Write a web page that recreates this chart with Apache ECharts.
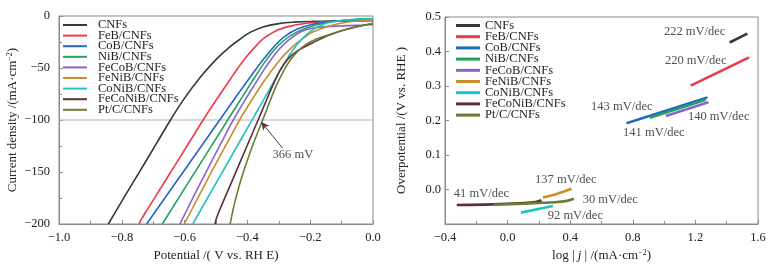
<!DOCTYPE html>
<html>
<head>
<meta charset="utf-8">
<script src="https://cdn.jsdelivr.net/npm/echarts@6/dist/echarts.min.js"></script>
<style>
  html, body { margin: 0; padding: 0; background: #fff; }
  #chart { width: 776px; height: 267px; }
</style>
</head>
<body>
<div id="chart"></div>
<script>
// sample names / colours (same order in both panels)
const names = ["CNFs", "FeB/CNFs", "CoB/CNFs", "NiB/CNFs", "FeCoB/CNFs", "FeNiB/CNFs", "CoNiB/CNFs", "FeCoNiB/CNFs", "Pt/C/CNFs"];
const colors = ["#383838", "#ee3a48", "#2366c4", "#22a060", "#8e62cc", "#c98d2e", "#1dc2c4", "#5e2f3a", "#6f7a32"];

// LSV curves: [potential V vs RHE, current density mA/cm2]
const lsvCNFs = [[-0.843,-200],[-0.79,-173],[-0.731,-143.5],[-0.69,-122.8],[-0.645,-100],[-0.60,-79],[-0.55,-59],[-0.50,-42],[-0.455,-29.5],[-0.42,-21.5],[-0.39,-15.5],[-0.35,-10.5],[-0.30,-7.3],[-0.25,-5.9],[-0.19,-5.2],[-0.10,-4.8],[0,-4.5]];
const lsvFeB = [[-0.745,-200],[-0.740,-196.5],[-0.733,-193],[-0.69,-172.2],[-0.638,-147],[-0.59,-123.8],[-0.541,-100],[-0.50,-81],[-0.455,-61],[-0.43,-50],[-0.40,-38],[-0.37,-28],[-0.35,-22],[-0.30,-13],[-0.243,-8.5],[-0.19,-6.2],[-0.10,-4.5],[0,-3.8]];
const lsvCoB = [[-0.721,-200],[-0.60,-148],[-0.486,-99],[-0.43,-75],[-0.40,-62.5],[-0.37,-50],[-0.35,-42],[-0.317,-30],[-0.285,-20.5],[-0.243,-12.8],[-0.19,-7.8],[-0.137,-5.2],[-0.07,-3.8],[0,-3]];
const lsvNiB = [[-0.671,-200],[-0.561,-147.2],[-0.463,-100.2],[-0.43,-84.4],[-0.402,-71],[-0.375,-58.2],[-0.349,-46.3],[-0.317,-33.5],[-0.285,-23.8],[-0.243,-15.5],[-0.19,-9.3],[-0.13,-5.6],[-0.06,-3.3],[0,-2.5]];
const lsvFeCoB = [[-0.615,-200],[-0.572,-174],[-0.528,-148],[-0.486,-123.5],[-0.445,-100],[-0.402,-78],[-0.375,-65],[-0.349,-52.5],[-0.32,-40],[-0.296,-31],[-0.27,-23.5],[-0.243,-17.5],[-0.22,-14],[-0.19,-11.5],[-0.137,-10],[-0.08,-9.3],[-0.03,-8.7],[0,-8.2]];
const lsvFeNiB = [[-0.601,-200],[-0.556,-174],[-0.511,-148],[-0.468,-124],[-0.425,-100],[-0.402,-88.5],[-0.375,-75.5],[-0.349,-63.5],[-0.32,-51.5],[-0.296,-42],[-0.27,-33.5],[-0.243,-26],[-0.215,-19.8],[-0.19,-15.2],[-0.137,-9.3],[-0.084,-6],[0,-3.8]];
const lsvCoNiB = [[-0.574,-200],[-0.477,-148.6],[-0.386,-100.4],[-0.349,-80.8],[-0.32,-65.4],[-0.296,-52.7],[-0.27,-39.5],[-0.243,-27.8],[-0.215,-18.8],[-0.19,-12.8],[-0.16,-8.3],[-0.137,-6],[-0.084,-3.8],[0,-2.8]];
const lsvFeCoNiB = [[-0.503,-200],[-0.497,-193],[-0.45,-159.5],[-0.40,-124],[-0.366,-100],[-0.34,-81.5],[-0.318,-66],[-0.296,-52],[-0.27,-41],[-0.243,-34],[-0.2,-27],[-0.17,-22.5],[-0.137,-18],[-0.073,-11.8],[0,-7.2]];
const lsvPtC = [[-0.455,-200],[-0.449,-191],[-0.44,-179],[-0.42,-157],[-0.39,-130],[-0.35,-99],[-0.308,-67],[-0.285,-53],[-0.265,-43],[-0.24,-34],[-0.212,-27],[-0.19,-23.5],[-0.17,-21],[-0.127,-16.5],[-0.06,-11],[0,-7]];
const lsvCurves = [lsvCNFs, lsvFeB, lsvCoB, lsvNiB, lsvFeCoB, lsvFeNiB, lsvCoNiB, lsvFeCoNiB, lsvPtC];

// reference level and the 366 mV callout (left panel)
const refCurrent = -100;
const arrowFrom = [-0.288, -127];
const arrowTo = [-0.356, -102];
const leftNotes = [[-0.255, -133.7, "366 mV"]];

// Tafel segments: [log|j|, overpotential V]
const tafCNFs = [[1.419,0.426],[1.532,0.452]];
const tafFeB = [[1.170,0.301],[1.543,0.383]];
const tafCoB = [[0.760,0.192],[1.277,0.267]];
const tafNiB = [[0.909,0.208],[1.266,0.260]];
const tafFeCoB = [[1.011,0.213],[1.283,0.253]];
const tafFeNiB = [[0.225,-0.023],[0.313,-0.013],[0.408,0.002]];
const tafCoNiB = [[0.085,-0.067],[0.29,-0.048]];
const tafFeCoNiB = [[-0.325,-0.045],[-0.1,-0.043],[0.1,-0.039],[0.18,-0.036],[0.217,-0.031]];
const tafPtC = [[-0.09,-0.044],[0.1,-0.041],[0.3,-0.037],[0.38,-0.033],[0.423,-0.027]];
const tafelLines = [tafCNFs, tafFeB, tafCoB, tafNiB, tafFeCoB, tafFeNiB, tafCoNiB, tafFeCoNiB, tafPtC];

// slope labels (right panel), centre positions in data units
const rightNotes = [
  [1.195, 0.456, "222 mV/dec"],
  [1.202, 0.372, "220 mV/dec"],
  [0.730, 0.240, "143 mV/dec"],
  [1.349, 0.211, "140 mV/dec"],
  [0.934, 0.165, "141 mV/dec"],
  [0.372, 0.029, "137 mV/dec"],
  [-0.167, -0.011, "41 mV/dec"],
  [0.656, -0.029, "30 mV/dec"],
  [0.433, -0.075, "92 mV/dec"]
];

const FONT = "'Liberation Serif','Times New Roman',serif";
const INK = "#222";
const FRAME = "#8a8a8a";
const minus = (s) => s.replace("-", "\u2212");

function axisBase(extra) {
  return Object.assign({
    type: "value",
    axisLine: { show: true, onZero: false, lineStyle: { color: FRAME, width: 1 } },
    axisTick: { show: true, inside: true, length: 4, lineStyle: { color: FRAME } },
    splitLine: { show: false },
    axisLabel: { color: INK, fontFamily: FONT, fontSize: 12.5 },
    nameLocation: "middle",
    nameTextStyle: { color: INK, fontFamily: FONT, fontSize: 13 },
  }, extra);
}

const supRich = {
  sup: { fontFamily: FONT, fontSize: 8, color: INK, verticalAlign: "top", lineHeight: 8 },
  i: { fontFamily: FONT, fontSize: 13, color: INK, fontStyle: "italic" },
};

function legendFor(left, top, gap, iconH, textGap) {
  return {
    orient: "vertical", left, top, itemGap: gap, padding: 0, selectedMode: false,
    icon: "rect", itemWidth: 24, itemHeight: iconH,
    textStyle: { fontFamily: FONT, fontSize: 12.5, color: INK, padding: [0, 0, 0, textGap] },
    data: names,
  };
}

function noteSeries(axisIdx, data) {
  return {
    type: "scatter", xAxisIndex: axisIdx, yAxisIndex: axisIdx, silent: true,
    data, symbolSize: 1, itemStyle: { color: "rgba(0,0,0,0)" }, z: 5,
    label: { show: true, position: "inside", formatter: (p) => p.data[2], color: INK, fontFamily: FONT, fontSize: 12.5 },
  };
}

const series = [];
// grey reference line at -100 mA/cm2
series.push({
  type: "line", xAxisIndex: 0, yAxisIndex: 0, silent: true, symbol: "none",
  data: [[-1, refCurrent], [0, refCurrent]],
  lineStyle: { color: "#b4b4b4", width: 1 }, z: 1,
});
lsvCurves.forEach((d, i) => series.push({
  name: names[i], type: "line", xAxisIndex: 0, yAxisIndex: 0,
  data: d, symbol: "none", smooth: 0.4,
  color: colors[i], lineStyle: { width: 1.6 }, z: 2,
}));
// callout arrow + text
series.push({
  type: "line", xAxisIndex: 0, yAxisIndex: 0, silent: true, symbol: "none", data: [],
  markLine: {
    silent: true, symbol: ["none", "arrow"], symbolSize: [6, 8], label: { show: false },
    lineStyle: { color: "#5a3a42", width: 1, type: "solid" },
    data: [[{ coord: arrowFrom }, { coord: arrowTo }]],
  }, z: 4,
});
series.push(noteSeries(0, leftNotes));

tafelLines.forEach((d, i) => series.push({
  name: names[i], type: "line", xAxisIndex: 1, yAxisIndex: 1,
  data: d, symbol: "none", smooth: 0.3,
  color: colors[i], lineStyle: { width: 2.6 },
}));
series.push(noteSeries(1, rightNotes));

const chart = echarts.init(document.getElementById("chart"), null, { renderer: "canvas" });
chart.setOption({
  animation: false,
  backgroundColor: "#fff",
  textStyle: { fontFamily: FONT },
  grid: [
    { left: 59, right: 403, top: 16, bottom: 43, show: true, borderColor: FRAME, borderWidth: 1 },
    { left: 445, right: 18, top: 17, bottom: 43, show: true, borderColor: FRAME, borderWidth: 1 },
  ],
  legend: [legendFor(63, 18.5, -2.4, 2, 6), legendFor(456, 19, -1.8, 3, 0)],
  xAxis: [
    axisBase({
      gridIndex: 0, min: -1, max: 0, interval: 0.2,
      minorTick: { show: true, splitNumber: 2, length: 3, lineStyle: { color: FRAME } },
      axisLabel: { color: INK, fontFamily: FONT, fontSize: 12.5, margin: 7, formatter: (v) => minus(v.toFixed(1)) },
      name: "Potential /( V vs. RH E)", nameGap: 21,
    }),
    axisBase({
      gridIndex: 1, min: -0.4, max: 1.6, interval: 0.4,
      minorTick: { show: true, splitNumber: 2, length: 3, lineStyle: { color: FRAME } },
      axisLabel: { color: INK, fontFamily: FONT, fontSize: 12.5, margin: 7, formatter: (v) => minus(v.toFixed(1)) },
      name: "log | {i|j} | /(mA·cm{sup|\u22122})", nameGap: 21,
      nameTextStyle: { color: INK, fontFamily: FONT, fontSize: 13, rich: supRich },
    }),
  ],
  yAxis: [
    axisBase({
      gridIndex: 0, min: -200, max: 0, interval: 50,
      minorTick: { show: true, splitNumber: 2, length: 3, lineStyle: { color: FRAME } },
      axisLabel: { color: INK, fontFamily: FONT, fontSize: 12.5, margin: 9, formatter: (v) => minus(String(v)) },
      name: "Current density /(mA·cm{sup|\u22122})", nameGap: 40,
      nameTextStyle: { color: INK, fontFamily: FONT, fontSize: 13, rich: supRich },
    }),
    axisBase({
      gridIndex: 1, min: -0.1, max: 0.5, interval: 0.1,
      axisLabel: { color: INK, fontFamily: FONT, fontSize: 12.5, margin: 4, formatter: (v) => (v < -0.05 ? "" : v.toFixed(1)) },
      name: "Overpotential /(V vs. RHE )", nameGap: 37,
    }),
  ],
  series,
});
</script>
</body>
</html>
